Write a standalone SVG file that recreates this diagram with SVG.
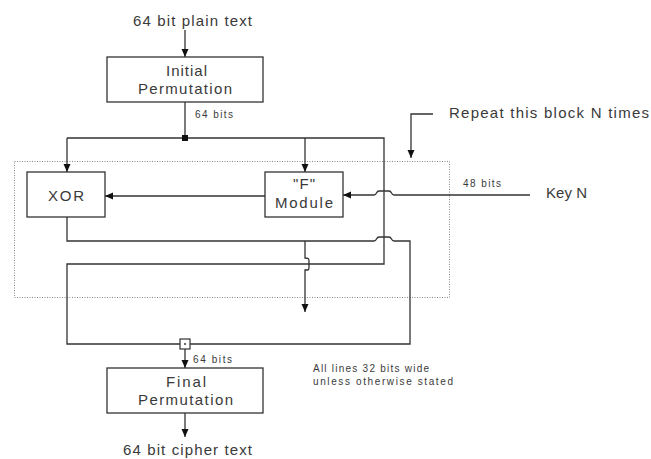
<svg xmlns="http://www.w3.org/2000/svg" width="651" height="459" viewBox="0 0 651 459">
<style>
  .bg { fill: #ffffff; }
  .box { fill: #ffffff; stroke: #333333; stroke-width: 1.3; }
  .ln { fill: none; stroke: #333333; stroke-width: 1.3; }
  .dot { fill: none; stroke: #888888; stroke-width: 1; stroke-dasharray: 1 1.5; }
  .t { font-family: "Liberation Sans", Arial, sans-serif; font-size: 15px; fill: #3a3a3a; }
  .s { font-family: "Liberation Sans", Arial, sans-serif; font-size: 10px; fill: #3a3a3a; }
</style>
<defs>
  <marker id="ah" viewBox="0 0 8 8" markerWidth="8" markerHeight="8" refX="8" refY="4" orient="auto" markerUnits="userSpaceOnUse">
    <path d="M0,0.5 L8,4 L0,7.5 z" fill="#111111"/>
  </marker>
</defs>
<rect class="bg" x="0" y="0" width="651" height="459"/>

<rect class="dot" x="14.5" y="161.5" width="435" height="136"/>

<g id="connectors">
  <path class="ln" d="M185,30 V57" marker-end="url(#ah)"/>
  <path class="ln" d="M185,102 V138"/>
  <path class="ln" d="M67,138 H384 V264 H67 V344 H180"/>
  <path class="ln" d="M67,138 V172" marker-end="url(#ah)"/>
  <path class="ln" d="M305,138 V172" marker-end="url(#ah)"/>
  <path class="ln" d="M265,196 H105" marker-end="url(#ah)"/>
  <path class="ln" d="M530,195 H394 C391,195 392,191 389,191 H379 C376,191 377,195 374,195 H343" marker-end="url(#ah)"/>
  <path class="ln" d="M67,217 V241 H374 C377,241 376,237 379,237 H389 C392,237 391,241 394,241 H410 V344 H190"/>
  <path class="ln" d="M305,241 V258 C309,258 309,259 309,262 V267 C309,270 309,270 305,270 V312" marker-end="url(#ah)"/>
  <path class="ln" d="M185,349 V368" marker-end="url(#ah)"/>
  <path class="ln" d="M185,413 V437" marker-end="url(#ah)"/>
  <path class="ln" d="M433,114 H411 V158" marker-end="url(#ah)"/>
  <rect x="182" y="135" width="6" height="6" fill="#111111"/>
  <rect x="180" y="339" width="10" height="10" fill="#ffffff" stroke="#333333" stroke-width="1.2"/>
  <circle cx="185" cy="344" r="1" fill="#333333"/>
</g>

<g id="plain">
  <text class="t" x="133" y="26" textLength="119" lengthAdjust="spacing">64 bit plain text</text>
</g>
<g id="initial">
  <rect class="box" x="107" y="57" width="156" height="45"/>
  <text class="t" x="166" y="76" textLength="41" lengthAdjust="spacing">Initial</text>
  <text class="t" x="138" y="94" textLength="94" lengthAdjust="spacing">Permutation</text>
</g>
<text class="s" x="195" y="118" textLength="38" lengthAdjust="spacing">64 bits</text>

<g id="xor">
  <rect class="box" x="27" y="172" width="78" height="45"/>
  <text class="t" x="48" y="201" textLength="36" lengthAdjust="spacing">XOR</text>
</g>
<g id="fmodule">
  <rect class="box" x="265" y="172" width="78" height="45"/>
  <text class="t" x="293" y="189" textLength="22" lengthAdjust="spacing">"F"</text>
  <text class="t" x="275" y="208" textLength="58" lengthAdjust="spacing">Module</text>
</g>
<g id="repeat">
  <text class="t" x="449" y="118" textLength="200" lengthAdjust="spacing">Repeat this block N times</text>
</g>
<text class="s" x="463" y="187" textLength="38" lengthAdjust="spacing">48 bits</text>
<g id="key">
  <text class="t" x="546" y="198" textLength="41" lengthAdjust="spacing">Key N</text>
</g>
<text class="s" x="193" y="363" textLength="39" lengthAdjust="spacing">64 bits</text>
<g id="final">
  <rect class="box" x="107" y="368" width="156" height="45"/>
  <text class="t" x="166" y="387" textLength="40" lengthAdjust="spacing">Final</text>
  <text class="t" x="138" y="405" textLength="95" lengthAdjust="spacing">Permutation</text>
</g>
<g id="cipher">
  <text class="t" x="123" y="455" textLength="129" lengthAdjust="spacing">64 bit cipher text</text>
</g>
<g id="note">
  <text class="s" x="313" y="372" textLength="116" lengthAdjust="spacing">All lines 32 bits wide</text>
  <text class="s" x="313" y="385" textLength="140" lengthAdjust="spacing">unless otherwise stated</text>
</g>
</svg>
